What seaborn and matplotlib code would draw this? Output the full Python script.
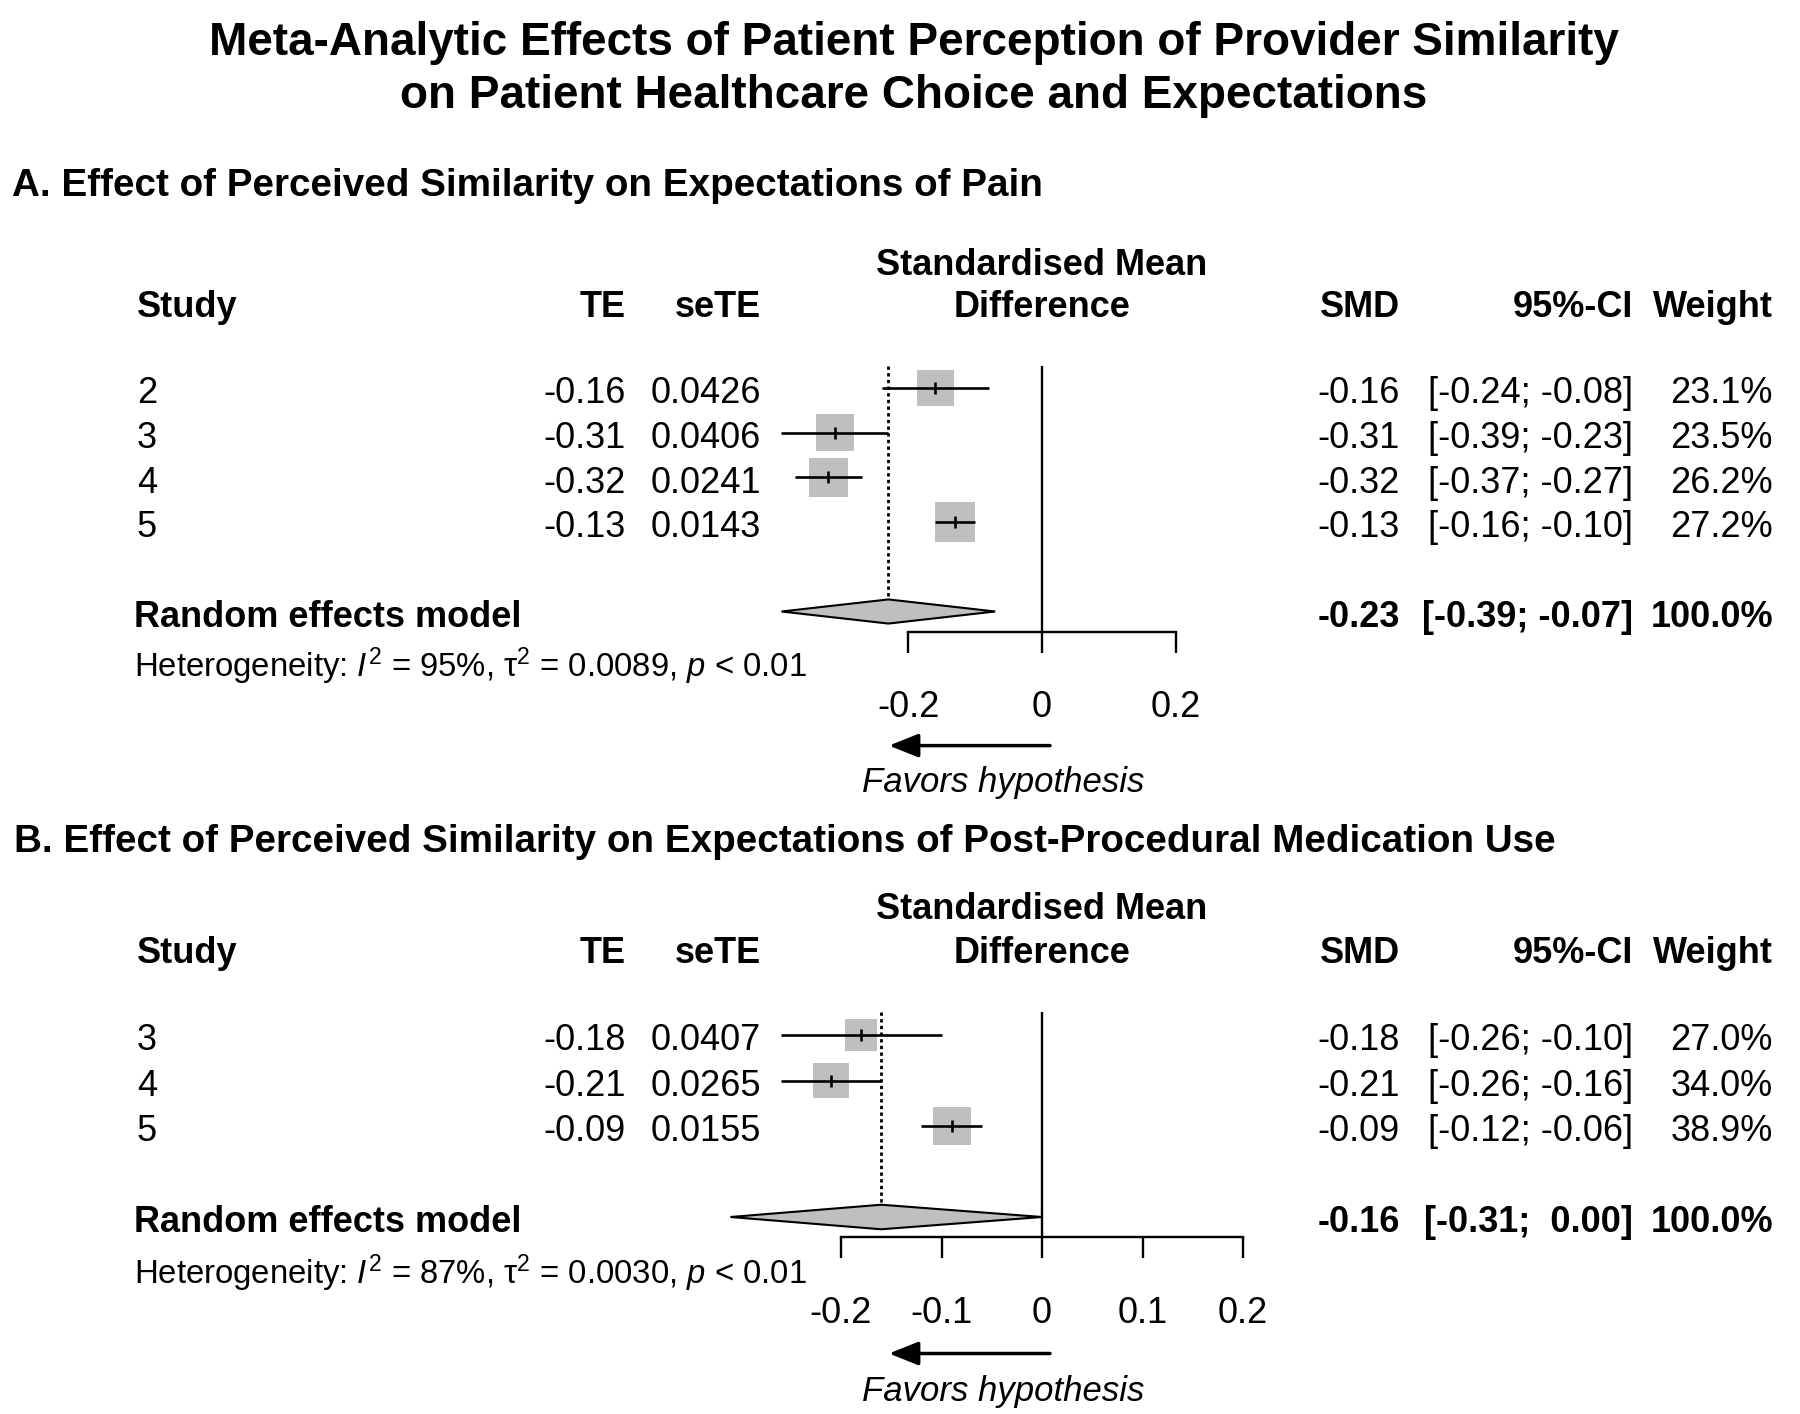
import pandas as pd
import seaborn as sns
import matplotlib.pyplot as plt
from matplotlib import transforms

# Panel A: expectations of pain
studies_a = ["2", "3", "4", "5"]
te_a = [-0.16, -0.31, -0.32, -0.13]
sete_a = [0.0426, 0.0406, 0.0241, 0.0143]
ci_lo_a = [-0.24, -0.39, -0.37, -0.16]
ci_hi_a = [-0.08, -0.23, -0.27, -0.10]
weight_a = [23.1, 23.5, 26.2, 27.2]
pooled_a = [-0.23, -0.39, -0.07]   # estimate, lower, upper
i2_a, tau2_a = 95, 0.0089
ticks_a = [-0.2, 0, 0.2]

# Panel B: expectations of post-procedural medication use
studies_b = ["3", "4", "5"]
te_b = [-0.18, -0.21, -0.09]
sete_b = [0.0407, 0.0265, 0.0155]
ci_lo_b = [-0.26, -0.26, -0.12]
ci_hi_b = [-0.10, -0.16, -0.06]
weight_b = [27.0, 34.0, 38.9]
pooled_b = [-0.16, -0.31, 0.00]
i2_b, tau2_b = 87, 0.0030
ticks_b = [-0.2, -0.1, 0, 0.1, 0.2]

W, H = 1800, 1414
sns.set_style("white")
plt.rcParams["font.family"] = ["Liberation Sans", "DejaVu Sans"]
plt.rcParams["mathtext.fontset"] = "custom"
plt.rcParams["mathtext.rm"] = "Liberation Sans"
plt.rcParams["mathtext.it"] = "Liberation Sans:italic"
plt.rcParams["text.color"] = "black"
plt.rcParams["xtick.color"] = "black"
plt.rcParams["xtick.labelcolor"] = "black"

fig = plt.figure(figsize=(W / 100, H / 100), dpi=100)
FS = 26
GREY = "#bfbfbf"


def ci_text(lo, hi):
    return f"[{lo:.2f}; {hi:5.2f}]"


def forest(studies, te, sete, lo, hi, w, pooled, i2, tau2, ticks,
           zero_px, unit_px, row0_px, row_px, xlim, ylim, smax):
    # place the axes so data units land on the right pixels
    left = zero_px + xlim[0] * unit_px
    width = (xlim[1] - xlim[0]) * unit_px
    top = row0_px + ylim[0] * row_px
    height = (ylim[1] - ylim[0]) * row_px
    ax = fig.add_axes([left / W, 1 - (top + height) / H, width / W, height / H])
    ax.patch.set_alpha(0)

    n = len(studies)
    rows = list(range(n))
    re_row = n + 1
    axis_row = re_row + 0.45

    df = pd.DataFrame({"te": te, "row": rows, "weight": w})
    sns.scatterplot(data=df, x="te", y="row", size="weight", sizes=(0, smax),
                    size_norm=(0, max(w)), marker="s", color=GREY, linewidth=0,
                    legend=False, ax=ax, zorder=2)
    ax.hlines(rows, lo, hi, color="black", lw=1.9, zorder=3)
    ax.plot(te, rows, "|", color="black", ms=9, mew=1.9, zorder=4)

    est, dlo, dhi = pooled
    h = 0.27
    ax.fill([dlo, est, dhi, est], [re_row, re_row - h, re_row, re_row + h],
            facecolor=GREY, edgecolor="black", lw=1.5, zorder=3)
    ax.vlines(est, -0.5, re_row - h, colors="black", lw=2.0,
              linestyles=(0, (1.2, 1.2)))
    ax.vlines(0, -0.5, axis_row, colors="black", lw=1.7)

    ax.set_xlim(xlim)
    ax.set_ylim(ylim[1], ylim[0])
    ax.set(xlabel="", ylabel="")
    for s in ["left", "top", "right"]:
        ax.spines[s].set_visible(False)
    ax.spines["bottom"].set_position(("data", axis_row))
    ax.spines["bottom"].set_bounds(ticks[0], ticks[-1])
    ax.spines["bottom"].set_linewidth(1.7)
    ax.spines["bottom"].set_color("black")
    ax.set_yticks([])
    ax.set_xticks(ticks)
    ax.set_xticklabels([f"{t:g}" for t in ticks])
    ax.tick_params(axis="x", direction="out", length=15, width=1.7, pad=27,
                   labelsize=FS, bottom=True, color="black", labelcolor="black")

    tr = transforms.blended_transform_factory(fig.transFigure, ax.transData)

    def put(xp, y, s, ha, dy=0.13, **kw):
        kw.setdefault("fontsize", FS)
        ax.text(xp / W, y + dy, s, transform=tr, ha=ha, va="center",
                color="black", **kw)

    # column headers
    hy = -1.85
    hd = 0.05
    put(137, hy, "Study", "left", hd, fontweight="bold")
    put(626, hy, "TE", "right", hd, fontweight="bold")
    put(761, hy, "seTE", "right", hd, fontweight="bold")
    put(1042, hy - 0.95, "Standardised Mean", "center", hd, fontweight="bold")
    put(1042, hy, "Difference", "center", hd, fontweight="bold")
    put(1400, hy, "SMD", "right", hd, fontweight="bold")
    put(1633, hy, "95%-CI", "right", hd, fontweight="bold")
    put(1773, hy, "Weight", "right", hd, fontweight="bold")

    for i in rows:
        put(137, i, studies[i], "left")
        put(626, i, f"{te[i]:.2f}", "right")
        put(761, i, f"{sete[i]:.4f}", "right")
        put(1400, i, f"{te[i]:.2f}", "right")
        put(1633, i, ci_text(lo[i], hi[i]), "right")
        put(1773, i, f"{w[i]:.1f}%", "right")

    put(134, re_row, "Random effects model", "left", fontweight="bold")
    put(1400, re_row, f"{est:.2f}", "right", fontweight="bold")
    put(1633, re_row, ci_text(dlo, dhi), "right", fontweight="bold")
    put(1773, re_row, "100.0%", "right", fontweight="bold")
    put(134, re_row + 1.1,
        rf"Heterogeneity: $I^{{\mathrm{{2}}}}$ = {i2}%, $\mathrm{{τ}}^{{\mathrm{{2}}}}$ = {tau2:.4f}, $p$ < 0.01",
        "left", fontsize=23.7)

    ax.annotate("", xy=(889 / W, re_row + 3), xytext=(1050 / W, re_row + 3),
                xycoords=tr, textcoords=tr,
                arrowprops=dict(arrowstyle="-|>,head_length=0.5,head_width=0.2",
                                color="black", lw=2.5, mutation_scale=36,
                                shrinkA=0, shrinkB=0))
    put(1003, re_row + 3.7, "Favors hypothesis", "center", style="italic", fontsize=25)
    return ax


forest(studies_a, te_a, sete_a, ci_lo_a, ci_hi_a, weight_a, pooled_a, i2_a, tau2_a,
       ticks_a, zero_px=1042, unit_px=668, row0_px=388, row_px=44.7,
       xlim=(-0.5, 0.3), ylim=(-3.5, 9.5), smax=829)
forest(studies_b, te_b, sete_b, ci_lo_b, ci_hi_b, weight_b, pooled_b, i2_b, tau2_b,
       ticks_b, zero_px=1042, unit_px=1005, row0_px=1035, row_px=45.5,
       xlim=(-0.35, 0.3), ylim=(-3.5, 8.2), smax=749)

fig.text(914 / W, 1 - 43 / H,
         "Meta-Analytic Effects of Patient Perception of Provider Similarity",
         ha="center", va="center", fontsize=33, fontweight="bold", color="black")
fig.text(914 / W, 1 - 96 / H,
         "on Patient Healthcare Choice and Expectations",
         ha="center", va="center", fontsize=33, fontweight="bold", color="black")
fig.text(12 / W, 1 - 186 / H,
         "A. Effect of Perceived Similarity on Expectations of Pain",
         ha="left", va="center", fontsize=27.8, fontweight="bold", color="black")
fig.text(14 / W, 1 - 842 / H,
         "B. Effect of Perceived Similarity on Expectations of Post-Procedural Medication Use",
         ha="left", va="center", fontsize=27.8, fontweight="bold", color="black")

fig.savefig("out.png", dpi=100)
